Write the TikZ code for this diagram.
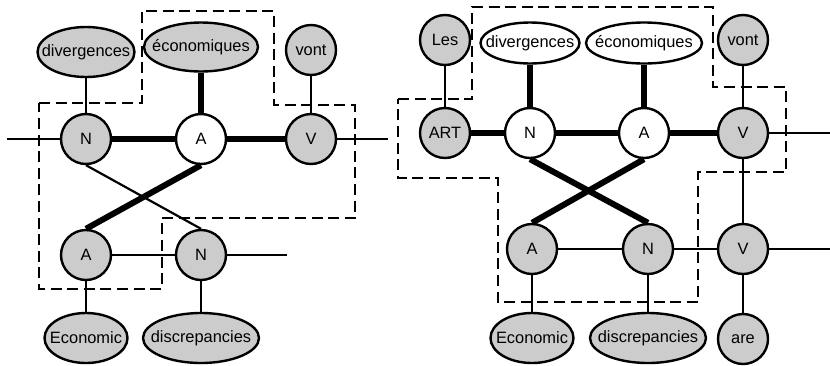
\documentclass[tikz,border=0pt]{standalone}
\usepackage{fontspec}
\setmainfont{Liberation Sans}
\usepackage{tikz}
\usetikzlibrary{shapes.geometric}
\definecolor{alnGray}{RGB}{204,204,204}
\tikzset{
    alnBase/.style={
        draw,
        line width=1.2pt,
        inner sep=0pt
    },
    % Tag and word nodes
    tagNode/.style={alnBase, circle, minimum size=25pt, fill=alnGray},
    openNode/.style={alnBase, circle, minimum size=25pt, fill=white},
    wordNode/.style={alnBase, ellipse, minimum height=25pt, fill=alnGray},
    openWord/.style={alnBase, ellipse, minimum height=20.5pt, fill=white},
    % Links
    thinLink/.style={line width=1.1pt},
    thickLink/.style={line width=3pt},
    regionLine/.style={line width=1.2pt, dash pattern=on 5.5pt off 2.8pt}
}

\begin{document}
\begin{tikzpicture}[x=0.5pt, y=-0.5pt, font=\fontsize{8.2}{9.8}\selectfont]
\useasboundingbox (0,0) rectangle (830,365);

% left graph
\node[tagNode] (nL) at (86,139) {N};
\node[openNode] (aL) at (201,139) {A};
\node[tagNode] (vL) at (311,139) {V};
\node[tagNode] (aL2) at (86,255) {A};
\node[tagNode] (nL2) at (201,255) {N};
\node[wordNode, minimum width=48.5pt, label=center:divergences] (divL) at (86,52) {};
\node[wordNode, minimum width=57pt, minimum height=24.5pt, label=center:économiques] (ecoL) at (201,47) {};
\node[tagNode] (vontL) at (311,50) {vont};
\node[wordNode, minimum width=41.5pt, label=center:Economic] (econL) at (86,338) {};
\node[wordNode, minimum width=58pt, label=center:discrepancies] (discL) at (201,338) {};
\coordinate (inL) at (7,139);
\coordinate (outL) at (388,139);
\coordinate (outL2) at (287,255);

\draw[thinLink] (inL) -- (nL);
\draw[thickLink] (nL) -- (aL);
\draw[thickLink] (aL) -- (vL);
\draw[thinLink] (vL) -- (outL);
\draw[thinLink] (divL) -- (nL);
\draw[thickLink] (ecoL) -- (aL);
\draw[thinLink] (vontL) -- (vL);
\draw[thinLink] (nL.south) -- (nL2.north);
\draw[thickLink] (aL.south) -- (aL2.north);
\draw[thinLink] (aL2) -- (nL2);
\draw[thinLink] (nL2) -- (outL2);
\draw[thinLink] (aL2) -- (econL);
\draw[thinLink] (nL2) -- (discL);

\draw[regionLine] (39,103) -- (142,103) -- (142,11) -- (274,11) -- (274,105) -- (355,105)
    -- (355,218) -- (162,218) -- (162,289) -- (39,289) -- cycle;

% right graph
\node[tagNode] (lesR) at (445,40) {Les};
\node[tagNode] (artR) at (445,133) {ART};
\node[openNode] (nR) at (530,133) {N};
\node[openNode] (aR) at (644,133) {A};
\node[tagNode] (vR) at (743,133) {V};
\node[tagNode] (vontR) at (743,40) {vont};
\node[openWord, minimum width=49.5pt, label=center:divergences] (divR) at (530,43) {};
\node[openWord, minimum width=58pt, label=center:économiques] (ecoR) at (644,43) {};
\node[tagNode] (aR2) at (532,249) {A};
\node[tagNode] (nR2) at (648,249) {N};
\node[tagNode] (vR2) at (743,249) {V};
\node[wordNode, minimum width=41.5pt, label=center:Economic] (econR) at (532,338) {};
\node[wordNode, minimum width=58pt, label=center:discrepancies] (discR) at (648,338) {};
\node[tagNode] (areR) at (743,339) {are};
\coordinate (outR) at (830,133);
\coordinate (outR2) at (830,249);

\draw[thinLink] (lesR) -- (artR);
\draw[thickLink] (artR) -- (nR);
\draw[thickLink] (nR) -- (aR);
\draw[thickLink] (aR) -- (vR);
\draw[thinLink] (vR) -- (outR);
\draw[thickLink] (divR) -- (nR);
\draw[thickLink] (ecoR) -- (aR);
\draw[thinLink] (vontR) -- (vR);
\draw[thinLink] (vR) -- (vR2);
\draw[thickLink] (nR.south) -- (nR2.north);
\draw[thickLink] (aR.south) -- (aR2.north);
\draw[thinLink] (aR2) -- (nR2);
\draw[thinLink] (nR2) -- (vR2);
\draw[thinLink] (vR2) -- (outR2);
\draw[thinLink] (aR2) -- (econR);
\draw[thinLink] (nR2) -- (discR);
\draw[thinLink] (vR2) -- (areR);

\draw[regionLine] (398,99) -- (472,99) -- (472,7) -- (713,7) -- (713,87) -- (786,87)
    -- (786,172) -- (698,172) -- (698,302) -- (498,302) -- (498,178) -- (398,178) -- cycle;
\end{tikzpicture}
\end{document}
